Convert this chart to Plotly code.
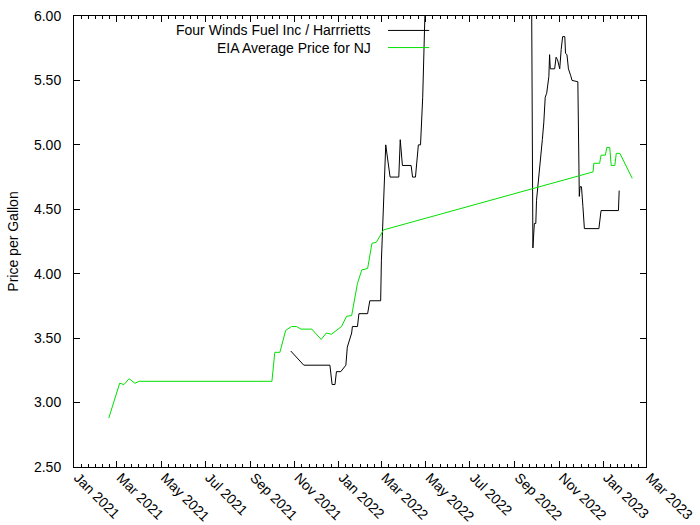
import plotly.graph_objects as go
import pandas as pd

# Four Winds Fuel Inc / Harrrietts price series
fw_dates = [
    "2021-10-27", "2021-11-14", "2021-12-20", "2021-12-21", "2021-12-23", "2021-12-27",
    "2021-12-29", "2022-01-04", "2022-01-11", "2022-01-13", "2022-01-19", "2022-01-20",
    "2022-01-27", "2022-01-29", "2022-02-10", "2022-02-13", "2022-02-28", "2022-03-01",
    "2022-03-05", "2022-03-07", "2022-03-13", "2022-03-25", "2022-03-27", "2022-03-30",
    "2022-04-11", "2022-04-13", "2022-04-17", "2022-04-21", "2022-04-24", "2022-04-25",
    "2022-04-27", "2022-04-30", "2022-05-02",
    "2022-09-24", "2022-09-26", "2022-09-28", "2022-09-30", "2022-10-01", "2022-10-06",
    "2022-10-09", "2022-10-11", "2022-10-13", "2022-10-15", "2022-10-18", "2022-10-19",
    "2022-10-20", "2022-10-26", "2022-10-28", "2022-10-30", "2022-11-02", "2022-11-04",
    "2022-11-06", "2022-11-09", "2022-11-10", "2022-11-12", "2022-11-14", "2022-11-17",
    "2022-11-19", "2022-11-27", "2022-11-28", "2022-11-29", "2022-11-30", "2022-12-02",
    "2022-12-04", "2022-12-06", "2022-12-26", "2022-12-29", "2023-01-22", "2023-01-23",
]
fw_prices = [
    3.40, 3.29, 3.29, 3.25, 3.14, 3.14,
    3.24, 3.24, 3.29, 3.43, 3.54, 3.59,
    3.59, 3.69, 3.69, 3.79, 3.79, 4.10,
    4.68, 5.00, 4.75, 4.75, 5.04, 4.84,
    4.84, 4.75, 4.75, 5.00, 5.00, 5.14,
    5.37, 6.00, 6.25,
    6.40, 4.20, 4.39, 4.39, 4.57, 4.83,
    5.04, 5.17, 5.37, 5.40, 5.53, 5.70,
    5.59, 5.59, 5.68, 5.66, 5.59, 5.74,
    5.84, 5.84, 5.71, 5.70, 5.59, 5.54,
    5.50, 5.49, 4.75, 4.60, 4.675, 4.675,
    4.52, 4.35, 4.35, 4.49, 4.49, 4.645,
]

# EIA Average Price for NJ
eia_dates = [
    "2021-02-18", "2021-03-05", "2021-03-11", "2021-03-18", "2021-03-26", "2021-04-01",
    "2021-10-01", "2021-10-05", "2021-10-12", "2021-10-20", "2021-10-28", "2021-11-04",
    "2021-11-10", "2021-11-25", "2021-12-08", "2021-12-15", "2021-12-22", "2022-01-05",
    "2022-01-12", "2022-01-19", "2022-01-27", "2022-02-02", "2022-02-10", "2022-02-16",
    "2022-02-22", "2022-03-04",
    "2022-12-18", "2022-12-19", "2022-12-27", "2022-12-29", "2023-01-04", "2023-01-06",
    "2023-01-10", "2023-01-12", "2023-01-17", "2023-01-19", "2023-01-24", "2023-02-10",
]
eia_prices = [
    2.88, 3.15, 3.14, 3.185, 3.15, 3.165,
    3.165, 3.39, 3.39, 3.56, 3.59, 3.59,
    3.57, 3.57, 3.49, 3.54, 3.53, 3.59,
    3.67, 3.675, 3.925, 4.03, 4.04, 4.236,
    4.244, 4.34,
    4.79, 4.857, 4.857, 4.92, 4.92, 4.98,
    4.98, 4.84, 4.84, 4.934, 4.934, 4.74,
]

series_names = ["Four Winds Fuel Inc / Harrrietts", "EIA Average Price for NJ"]
series_colors = ["#000000", "#00e000"]
x_range = ["2021-01-01", "2023-03-01"]
y_range = [2.5, 6.0]

FONT = "Liberation Sans, Arial, sans-serif"

# minor ticks: 5 between each pair of 2-month majors
majors = pd.date_range(x_range[0], x_range[1], freq="2MS")
minor_vals = []
for a, b in zip(majors[:-1], majors[1:]):
    for k in range(1, 6):
        minor_vals.append(a + (b - a) * k / 6)

fig = go.Figure()
fig.add_trace(go.Scatter(x=pd.to_datetime(fw_dates), y=fw_prices, mode="lines",
                         name=series_names[0], line=dict(color=series_colors[0], width=1),
                         showlegend=False))
fig.add_trace(go.Scatter(x=pd.to_datetime(eia_dates), y=eia_prices, mode="lines",
                         name=series_names[1], line=dict(color=series_colors[1], width=1),
                         showlegend=False))

# gnuplot-style key: text right-aligned, sample line on the right
rows_y = [0.968, 0.930]
for name, color, yy in zip(series_names, series_colors, rows_y):
    fig.add_annotation(xref="paper", yref="paper", x=0.523, y=yy, text=name,
                       showarrow=False, xanchor="right", yanchor="middle",
                       font=dict(family=FONT, size=14, color="#000000"))
    fig.add_shape(type="line", xref="paper", yref="paper", x0=0.549, x1=0.621,
                  y0=yy, y1=yy, line=dict(color=color, width=1))

fig.update_xaxes(
    type="date", range=x_range, tick0="2021-01-01", dtick="M2", tickformat="%b %Y",
    tickangle=45, ticks="inside", ticklen=6, tickcolor="#000000",
    showline=True, linecolor="#000000", linewidth=1, mirror="allticks",
    showgrid=False, zeroline=False, automargin=False,
    minor=dict(tickmode="array", tickvals=minor_vals, ticks="inside", ticklen=3,
               tickcolor="#000000", showgrid=False),
    tickfont=dict(family=FONT, size=14, color="#000000"),
    ticklabelstandoff=-4, ticklabelshift=4,
)
fig.update_yaxes(
    range=y_range, dtick=0.5, tick0=2.5, tickformat=".2f",
    ticks="inside", ticklen=6, tickcolor="#000000",
    showline=True, linecolor="#000000", linewidth=1, mirror="allticks",
    showgrid=False, zeroline=False, automargin=False,
    tickfont=dict(family=FONT, size=14, color="#000000"), ticklabelstandoff=9,
    title=dict(text="Price per Gallon", font=dict(family=FONT, size=14, color="#000000"),
               standoff=12),
)
fig.update_layout(
    width=700, height=525, paper_bgcolor="#ffffff", plot_bgcolor="#ffffff",
    margin=dict(l=74, r=54, t=16, b=58), showlegend=False,
    font=dict(family=FONT, size=14, color="#000000"),
)
fig.write_html("out.html")
